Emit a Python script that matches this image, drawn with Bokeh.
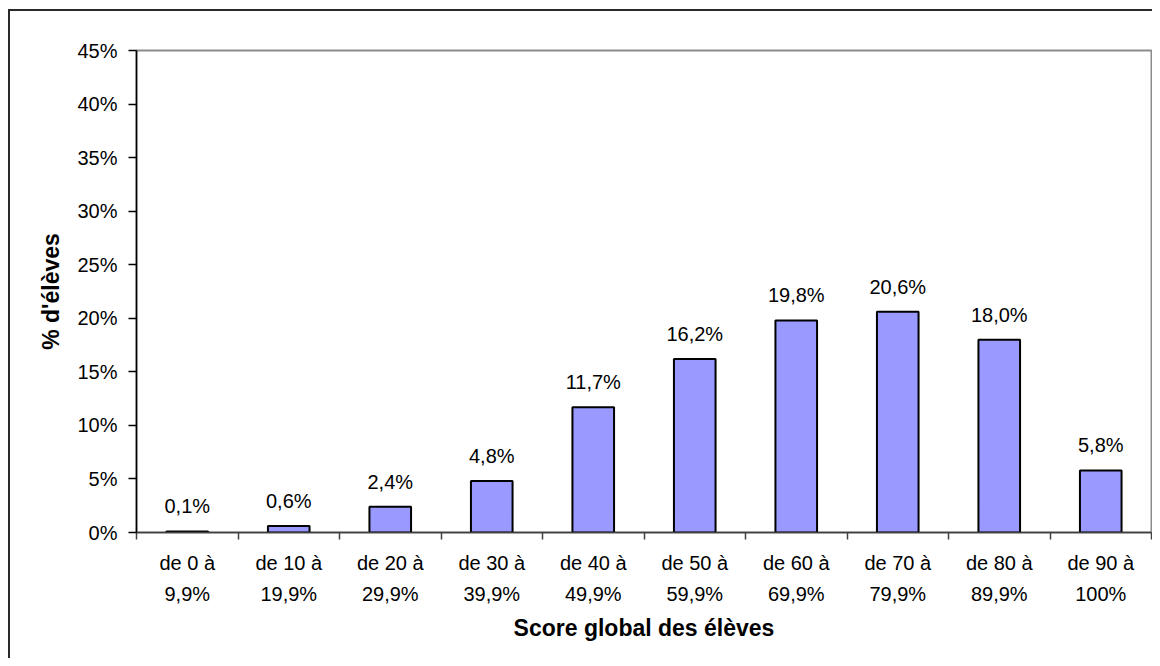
from bokeh.plotting import figure
from bokeh.models import Range1d, FixedTicker, ColumnDataSource
from bokeh.embed import file_html
from bokeh.resources import INLINE
from bokeh.core.properties import value

# ---- data ----
categories = [
    "de 0 à\n9,9%", "de 10 à\n19,9%", "de 20 à\n29,9%", "de 30 à\n39,9%",
    "de 40 à\n49,9%", "de 50 à\n59,9%", "de 60 à\n69,9%", "de 70 à\n79,9%",
    "de 80 à\n89,9%", "de 90 à\n100%",
]
percent_eleves = [0.1, 0.6, 2.4, 4.8, 11.7, 16.2, 19.8, 20.6, 18.0, 5.8]
y_ticks = [0, 5, 10, 15, 20, 25, 30, 35, 40, 45]
y_tick_labels = ["0%", "5%", "10%", "15%", "20%", "25%", "30%", "35%", "40%", "45%"]
x_title = "Score global des élèves"
y_title = "% d'élèves"

FONT = "Liberation Sans"

n = len(categories)
xc = [i + 0.5 for i in range(n)]
labels = [f"{v:.1f}%".replace(".", ",") for v in percent_eleves]
src = ColumnDataSource(dict(x=xc, top=percent_eleves, label=labels))

p = figure(width=1152, height=658,
           x_range=Range1d(0, n), y_range=Range1d(y_ticks[0], y_ticks[-1]),
           output_backend="svg", toolbar_location=None,
           min_border_left=136, min_border_right=1,
           min_border_top=50, min_border_bottom=126)
p.styles = {
    "background": "linear-gradient(#2a2a2a,#2a2a2a) 8px 9px / 2px 100% no-repeat, "
                  "linear-gradient(#2a2a2a,#2a2a2a) 8px 9px / 100% 2px no-repeat"
}

p.vbar(x="x", top="top", width=0.41, bottom=0, source=src,
       fill_color="#9999FF", line_color="black", line_width=2)

p.text(x="x", y="top", text="label", source=src,
       text_align="center", text_baseline="alphabetic", y_offset=-25,
       text_font=value(FONT), text_font_size="20px", text_color="black")

p.grid.visible = False
p.outline_line_color = "#8c8c8c"
p.outline_line_width = 2
p.background_fill_color = "white"
p.border_fill_color = None

# y axis
ya = p.yaxis[0]
ya.ticker = FixedTicker(ticks=y_ticks)
ya.major_label_overrides = {t: l for t, l in zip(y_ticks, y_tick_labels)}
ya.major_tick_in = 0
ya.major_tick_out = 8
ya.minor_tick_in = 0
ya.minor_tick_out = 0
ya.major_tick_line_color = "black"
ya.axis_line_color = "black"
ya.axis_line_width = 1.5
ya.major_tick_line_width = 1.5
ya.major_label_standoff = 11
ya.major_label_text_font = FONT
ya.major_label_text_font_size = "20px"
ya.major_label_text_color = "black"
ya.axis_label = y_title
ya.axis_label_text_font = FONT
ya.axis_label_text_font_size = "23px"
ya.axis_label_text_font_style = "bold"
ya.axis_label_text_color = "black"
ya.axis_label_standoff = 10

# x axis
xa = p.xaxis[0]
xa.ticker = FixedTicker(ticks=xc, minor_ticks=list(range(n + 1)))
xa.major_label_overrides = {x: c for x, c in zip(xc, categories)}
xa.major_tick_in = 0
xa.major_tick_out = 0
xa.minor_tick_in = 0
xa.minor_tick_out = 7
xa.minor_tick_line_color = "#404040"
xa.minor_tick_line_width = 1.5
xa.axis_line_color = "#404040"
xa.axis_line_width = 1.5
xa.major_label_standoff = 12
xa.major_label_text_font = FONT
xa.major_label_text_font_size = "20px"
xa.major_label_text_color = "black"
xa.major_label_text_line_height = 1.45
xa.axis_label = x_title
xa.axis_label_text_font = FONT
xa.axis_label_text_font_size = "23px"
xa.axis_label_text_font_style = "bold"
xa.axis_label_text_color = "black"
xa.axis_label_standoff = 7

open("out.html", "w").write(file_html(p, INLINE))
